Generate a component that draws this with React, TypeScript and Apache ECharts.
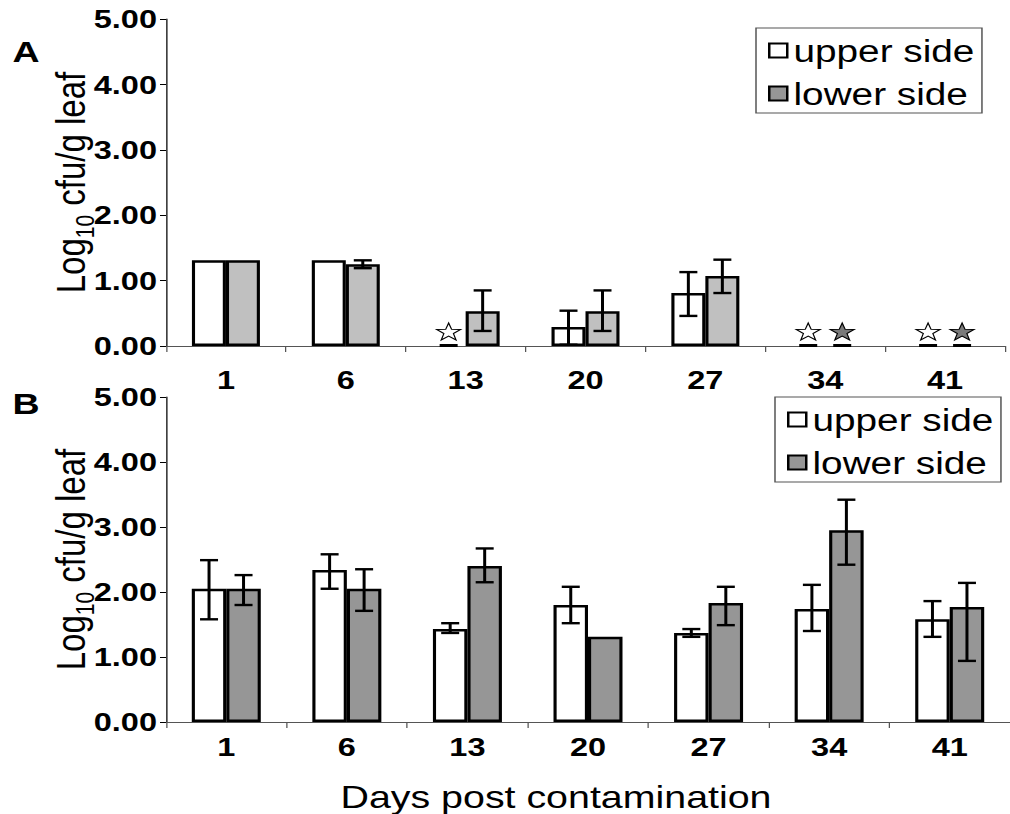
import React, { useEffect, useRef } from 'react';
import * as echarts from 'echarts';

// ---- data ----
const days = ['1', '6', '13', '20', '27', '34', '41'];
const seriesNames = ['upper side', 'lower side'];
const yAxisTitle = 'Log10 cfu/g leaf';
const xAxisTitle = 'Days post contamination';
const panelLabels = ['A', 'B'];

// Panel A (0 = below detection, shown with a star)
const aUpper = [1.31, 1.31, 0, 0.29, 0.81, 0, 0];
const aUpperPlus = [0, 0, 0, 0.25, 0.32, 0, 0];
const aUpperMinus = [0, 0, 0, 0.27, 0.35, 0, 0];
const aLower = [1.31, 1.25, 0.53, 0.53, 1.07, 0, 0];
const aLowerPlus = [0, 0.06, 0.32, 0.32, 0.25, 0, 0];
const aLowerMinus = [0, 0.06, 0.3, 0.3, 0.26, 0, 0];

// Panel B
const bUpper = [2.05, 2.34, 1.43, 1.8, 1.37, 1.74, 1.58];
const bUpperPlus = [0.44, 0.24, 0.09, 0.28, 0.06, 0.37, 0.28];
const bUpperMinus = [0.47, 0.29, 0.06, 0.28, 0.06, 0.34, 0.27];
const bLower = [2.05, 2.05, 2.4, 1.31, 1.83, 2.95, 1.77];
const bLowerPlus = [0.21, 0.3, 0.27, 0, 0.25, 0.47, 0.37];
const bLowerMinus = [0.25, 0.34, 0.25, 0, 0.34, 0.53, 0.83];

// ---- layout / style ----
const S = 1.25; // horizontal stretch of the original figure
const W = 1010 / S;
const H = 814;
const px = (v: number) => v / S;
const FONT = '"Liberation Sans", Arial, Helvetica, sans-serif';
const BAR_A = px(34);
const BAR_B = px(34.5);

function starPath(): string {
  const pts: string[] = [];
  for (let i = 0; i < 10; i++) {
    const r = i % 2 === 0 ? 50 : 20;
    const a = -Math.PI / 2 + (i * Math.PI) / 5;
    pts.push(`${(50 + r * Math.cos(a)).toFixed(2)} ${(50 + r * Math.sin(a)).toFixed(2)}`);
  }
  return 'M' + pts.join(' L') + ' Z';
}
const STAR = starPath();

function errSeries(values: number[], plus: number[], minus: number[], side: number, idx: number, barW: number) {
  const data = values
    .map((v, i) => [i, v, v + plus[i], v - minus[i]])
    .filter((d) => d[2] !== d[3]);
  return {
    type: 'custom',
    xAxisIndex: idx,
    yAxisIndex: idx,
    silent: true,
    z: 10,
    encode: { x: 0, y: 1 },
    data,
    renderItem: (params: any, api: any) => {
      const cat = api.value(0);
      const top = api.coord([cat, api.value(2)]);
      const bot = api.coord([cat, api.value(3)]);
      const x = top[0] + (side * barW) / 2;
      const cap = px(18) / 2;
      const style = { stroke: '#000', lineWidth: 2.4 };
      return {
        type: 'group',
        children: [
          { type: 'line', shape: { x1: x, y1: top[1], x2: x, y2: bot[1] }, style },
          { type: 'line', shape: { x1: x - cap, y1: top[1], x2: x + cap, y2: top[1] }, style },
          { type: 'line', shape: { x1: x - cap, y1: bot[1], x2: x + cap, y2: bot[1] }, style },
        ],
      };
    },
  };
}

function starSeries() {
  const data: number[][] = [];
  aUpper.forEach((v, i) => { if (v === 0) data.push([i, 0, -1]); });
  aLower.forEach((v, i) => { if (v === 0) data.push([i, 0, 1]); });
  return {
    type: 'custom',
    xAxisIndex: 0,
    yAxisIndex: 0,
    silent: true,
    z: 11,
    encode: { x: 0, y: 1 },
    data,
    renderItem: (params: any, api: any) => {
      const base = api.coord([api.value(0), 0]);
      const side = api.value(2);
      const cx = base[0] + (side * BAR_A) / 2;
      const sw = px(24);
      const sh = 17;
      return {
        type: 'group',
        children: [
          {
            type: 'path',
            shape: { pathData: STAR, x: cx - sw / 2, y: base[1] - 23, width: sw, height: sh, layout: 'cover' },
            style: { fill: side < 0 ? '#ffffff' : '#7a7a7a', stroke: '#000', lineWidth: 1 },
          },
          {
            type: 'rect',
            shape: { x: cx - px(18) / 2, y: base[1] - 2, width: px(18), height: 3 },
            style: { fill: '#000' },
          },
        ],
      };
    },
  };
}

function barData(values: number[]) {
  return values.map((v) => (v === 0 ? '-' : v));
}

function xAxis(idx: number, margin: number) {
  return {
    type: 'category',
    gridIndex: idx,
    data: days,
    axisLine: { lineStyle: { color: '#555', width: 1 } },
    axisTick: { show: true, length: 6, lineStyle: { color: '#555', width: 1 } },
    axisLabel: { color: '#000', fontWeight: 'bold', fontSize: 26, fontFamily: FONT, margin },
  };
}

function yAxis(idx: number) {
  return {
    type: 'value',
    gridIndex: idx,
    min: 0,
    max: 5,
    interval: 1,
    splitLine: { show: false },
    axisLine: { show: true, lineStyle: { color: '#000', width: 1 } },
    axisTick: { show: true, length: px(6), lineStyle: { color: '#000', width: 1 } },
    axisLabel: {
      formatter: (v: number) => v.toFixed(2),
      color: '#000',
      fontWeight: 'bold',
      fontSize: 26,
      fontFamily: FONT,
      margin: px(9),
    },
    name: '{n|' + yAxisTitle.slice(0, 3) + '}{s|' + yAxisTitle.slice(3, 5) + '}{n|' + yAxisTitle.slice(5) + '}',
    nameLocation: 'middle',
    nameRotate: 90,
    nameGap: 60,
    nameMoveOverlap: false,
    nameTextStyle: {
      color: '#000',
      fontFamily: FONT,
      fontSize: 33,
      rich: {
        n: { fontSize: 33, fontFamily: FONT, color: '#000', lineHeight: 33, verticalAlign: 'top' },
        s: { fontSize: 21, fontFamily: FONT, color: '#000', lineHeight: 21, padding: [17, 0, 0, 0], verticalAlign: 'top' },
      },
    },
  };
}

function legend(leftPage: number, top: number) {
  return {
    left: px(leftPage),
    top,
    orient: 'vertical',
    selectedMode: false,
    data: [
      { name: seriesNames[0], itemStyle: { color: '#ffffff', borderColor: '#000', borderWidth: 2 } },
      { name: seriesNames[1], itemStyle: { color: '#969696', borderColor: '#000', borderWidth: 2 } },
    ],
    icon: 'rect',
    itemWidth: px(18),
    itemHeight: 14,
    itemGap: 12,
    padding: [7, 6, 4, px(12)],
    borderColor: '#555',
    borderWidth: 1.2,
    backgroundColor: '#fff',
    textStyle: { fontSize: 31, fontFamily: FONT, color: '#000', lineHeight: 31 },
  };
}

export default function App() {
  const ref = useRef<HTMLDivElement>(null);
  useEffect(() => {
    document.body.style.margin = '0';
    if (!ref.current) return;
    const chart = echarts.init(ref.current, null, { renderer: 'svg' });
    chart.setOption({
      animation: false,
      backgroundColor: '#fff',
      grid: [
        { left: px(166), top: 19, width: px(839), height: 327 },
        { left: px(166), top: 397, width: px(848), height: 325 },
      ],
      xAxis: [xAxis(0, 21), xAxis(1, 12)],
      yAxis: [yAxis(0), yAxis(1)],
      legend: [legend(756, 28), legend(775, 397)],
      graphic: [
        {
          type: 'text',
          x: px(26),
          y: 51,
          style: { text: panelLabels[0], fontSize: 30, fontWeight: 'bold', fontFamily: FONT, fill: '#000', align: 'center', verticalAlign: 'middle', textAlign: 'center', textVerticalAlign: 'middle' },
        },
        {
          type: 'text',
          x: px(26),
          y: 403,
          style: { text: panelLabels[1], fontSize: 30, fontWeight: 'bold', fontFamily: FONT, fill: '#000', align: 'center', verticalAlign: 'middle', textAlign: 'center', textVerticalAlign: 'middle' },
        },
        {
          type: 'text',
          x: px(556),
          y: 797,
          style: { text: xAxisTitle, fontSize: 31.5, fontFamily: FONT, fill: '#000', align: 'center', verticalAlign: 'middle', textAlign: 'center', textVerticalAlign: 'middle' },
        },
      ],
      series: [
        {
          type: 'bar', name: seriesNames[0], xAxisIndex: 0, yAxisIndex: 0, data: barData(aUpper),
          barWidth: BAR_A, barGap: '0%', itemStyle: { color: '#ffffff', borderColor: '#000', borderWidth: 2.5 },
        },
        {
          type: 'bar', name: seriesNames[1], xAxisIndex: 0, yAxisIndex: 0, data: barData(aLower),
          barWidth: BAR_A, barGap: '0%', itemStyle: { color: '#c0c0c0', borderColor: '#000', borderWidth: 2.5 },
        },
        {
          type: 'bar', name: seriesNames[0], xAxisIndex: 1, yAxisIndex: 1, data: barData(bUpper),
          barWidth: BAR_B, barGap: '0%', itemStyle: { color: '#ffffff', borderColor: '#000', borderWidth: 2.5 },
        },
        {
          type: 'bar', name: seriesNames[1], xAxisIndex: 1, yAxisIndex: 1, data: barData(bLower),
          barWidth: BAR_B, barGap: '0%', itemStyle: { color: '#969696', borderColor: '#000', borderWidth: 2.5 },
        },
        errSeries(aUpper, aUpperPlus, aUpperMinus, -1, 0, BAR_A),
        errSeries(aLower, aLowerPlus, aLowerMinus, 1, 0, BAR_A),
        errSeries(bUpper, bUpperPlus, bUpperMinus, -1, 1, BAR_B),
        errSeries(bLower, bLowerPlus, bLowerMinus, 1, 1, BAR_B),
        starSeries(),
      ],
    });
    return () => chart.dispose();
  }, []);
  return (
    <div
      ref={ref}
      style={{ width: W, height: H, transform: `scaleX(${S})`, transformOrigin: '0 0' }}
    />
  );
}
